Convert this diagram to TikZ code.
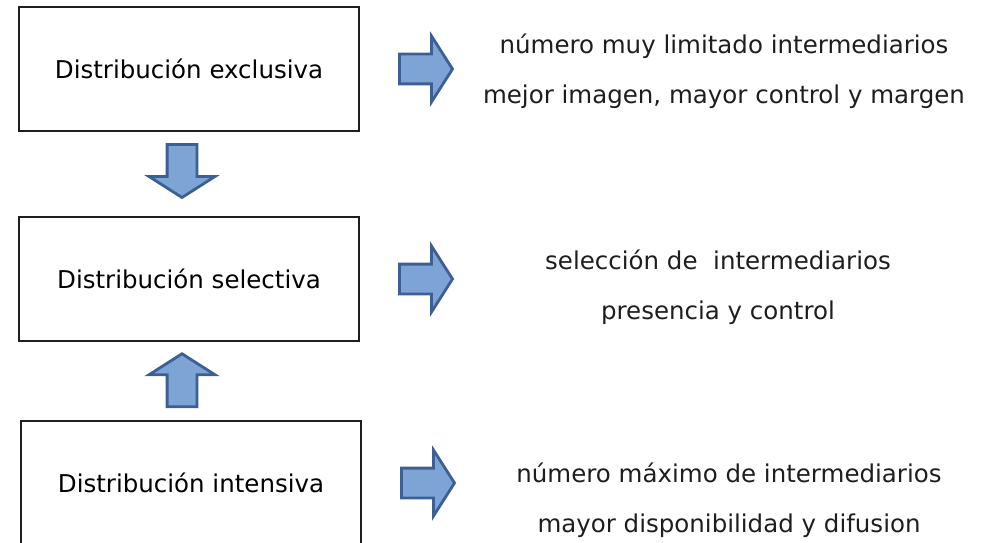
\documentclass[tikz,border=0pt]{standalone}
\usepackage{fontspec}
\setmainfont{DejaVu Sans}
\usetikzlibrary{positioning,shapes.arrows}
\definecolor{flecha}{RGB}{126,164,214}
\definecolor{flechaborde}{RGB}{60,96,150}
\definecolor{borde}{RGB}{30,30,30}
\begin{document}
\begin{tikzpicture}[x=1pt, y=1pt, font=\fontsize{24.5}{50}\selectfont,
  tipo/.style={draw=borde, line width=2.2pt, minimum width=340pt, minimum height=124pt, inner sep=0pt},
  efecto/.style={align=center, inner sep=0pt, text=borde},
  bloque/.style={single arrow, draw=flechaborde, fill=flecha, line width=2.8pt, inner sep=13.5pt,
    minimum width=63pt, minimum height=53pt, single arrow head extend=18pt, single arrow tip angle=115}]
  \useasboundingbox (0,0) rectangle (998,542);
  \node[tipo] (excl) at (189,473) {Distribución exclusiva};
  \node[tipo] (sel) at (189,263) {Distribución selectiva};
  \node[tipo] (inten) at (191,59) {Distribución intensiva};
  \node[bloque, right=38pt of excl] (f1) {};
  \node[bloque, right=38pt of sel] (f2) {};
  \node[bloque, right=38pt of inten] (f3) {};
  \node[bloque, shape border rotate=270, below=11pt of excl, xshift=-7pt] (baja) {};
  \node[bloque, shape border rotate=90, below=10pt of sel, xshift=-7pt] (sube) {};
  \node[efecto] (t1) at (724,470.4) {número muy limitado intermediarios\\mejor imagen, mayor control y margen};
  \node[efecto] (t2) at (718,254.4) {selección de\ \ intermediarios\\presencia y control};
  \node[efecto] (t3) at (729,42) {número máximo de intermediarios\\mayor disponibilidad y difusion};
\end{tikzpicture}
\end{document}
